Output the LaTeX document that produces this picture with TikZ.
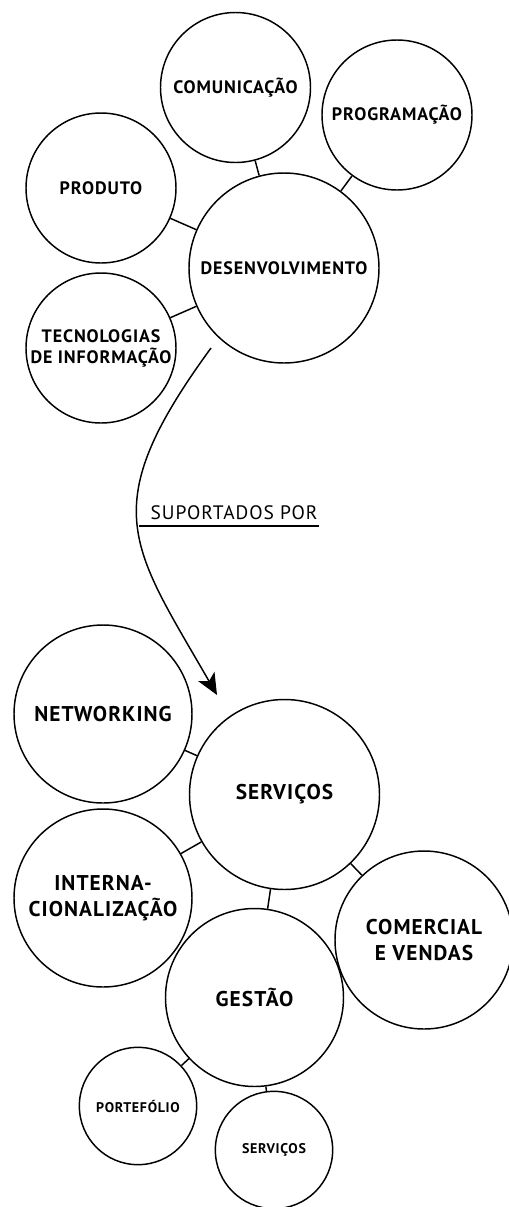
\documentclass[tikz,border=0pt]{standalone}
\usepackage{fontspec}
\setmainfont{PT Sans}[LetterSpace=5]
\usetikzlibrary{arrows.meta}

\tikzset{every picture/.style={line width=0.75pt}}
\tikzset{
  bubble/.style={draw, circle, line width=1.1pt, inner sep=0pt, align=center},
  topbig/.style={bubble, minimum size=142.5pt, font=\fontsize{13.5}{15.75}\selectfont\bfseries},
  topbub/.style={bubble, minimum size=112.5pt, font=\fontsize{13.5}{15.75}\selectfont\bfseries},
  lowbig/.style={bubble, minimum size=142.5pt, font=\fontsize{16}{19.75}\selectfont\bfseries},
  lowbub/.style={bubble, minimum size=133.5pt, font=\fontsize{16}{19.75}\selectfont\bfseries},
  smallbub/.style={bubble, minimum size=88pt, font=\fontsize{10.5}{12}\selectfont\bfseries},
  link/.style={line width=1.1pt},
}

\begin{document}
\begin{tikzpicture}[x=0.75pt,y=0.75pt,yscale=-1,xscale=1]
\useasboundingbox (0,0) rectangle (509,1207);

% Circles: upper group
\node [topbig] (des) at (284,268) {DESENVOLVIMENTO};
\node [topbub] (com) at (235.5,87.5) {COMUNICAÇÃO};
\node [topbub] (prog) at (397,115) {PROGRAMAÇÃO};
\node [topbub] (prod) at (101,188) {PRODUTO};
\node [topbub] (tec) at (101,348) {TECNOLOGIAS\\DE INFORMAÇÃO};

% Straight Lines
\draw [link] (com) -- (des);
\draw [link] (prog) -- (des);
\draw [link] (prod) -- (des);
\draw [link] (tec) -- (des);

% Curve with arrow
\coordinate (from) at (211,348);
\coordinate (to) at (217,695);
\draw [link, -{Stealth[length=16pt,width=14pt,inset=4pt]}] (from) .. controls (94.4,507.6) and (130.5,544.6) .. (to);

% Text Node (underlined)
\coordinate (ul) at (139,526);
\node [anchor=south east, inner xsep=0.75pt, inner ysep=4.5pt, font=\fontsize{14.6}{16}\selectfont] (sup) at (319,526) {SUPORTADOS POR};
\draw [link] (ul) -- (sup.south east);

% Circles: lower group
\node [lowbig] (serv) at (284.5,794.5) {SERVIÇOS};
\node [lowbub] (net) at (103,714) {NETWORKING};
\node [lowbub] (inter) at (103,898) {INTERNA-\\CIONALIZAÇÃO};
\node [lowbub] (comv) at (424,940) {COMERCIAL\\E VENDAS};
\node [lowbub] (ges) at (254.5,997.5) {GESTÃO};
\node [smallbub] (port) at (138,1106) {PORTEFÓLIO};
\node [smallbub] (servb) at (274,1150) {SERVIÇOS};

% Straight Lines
\draw [link] (net) -- (serv);
\draw [link] (inter) -- (serv);
\draw [link] (comv) -- (serv);
\draw [link] (ges) -- (serv);
\draw [link] (port) -- (ges);
\draw [link] (servb) -- (ges);

\end{tikzpicture}
\end{document}
